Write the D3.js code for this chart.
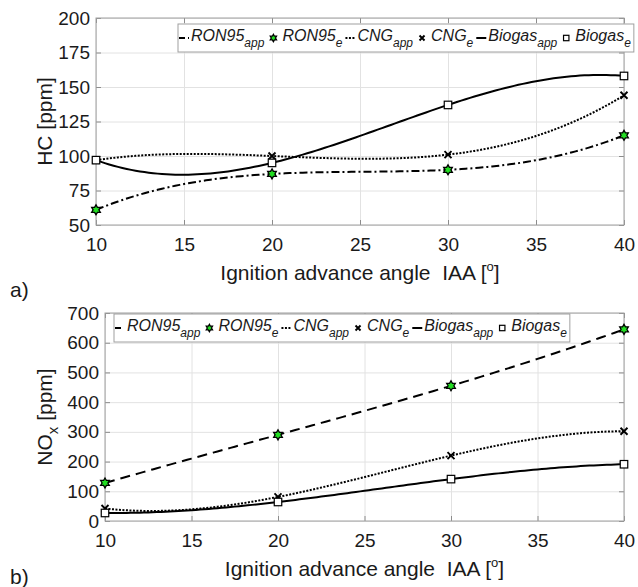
<!DOCTYPE html>
<html>
<head>
<meta charset="utf-8">
<script src="https://cdn.jsdelivr.net/npm/d3@7"></script>
<style>
  body { margin: 0; background: #fff; }
  svg { display: block; font-family: "Liberation Sans", Arial, sans-serif; }
</style>
</head>
<body>
<svg id="chart" width="638" height="587"></svg>
<script>
/*
** Data
*/
var iaa = [10, 20, 30, 40];
var hcRon95 = [61, 87, 90, 115];
var hcCng = [97, 100, 101, 144];
var hcBiogas = [97, 95, 137, 158];
var noxRon95 = [128, 290, 455, 645];
var noxCng = [42, 81, 220, 302];
var noxBiogas = [27, 64, 141, 191];
var iaaTicks = [10, 15, 20, 25, 30, 35, 40];
var hcTicks = [50, 75, 100, 125, 150, 175, 200];
var noxTicks = [0, 100, 200, 300, 400, 500, 600, 700];
var fuels = ["RON95", "CNG", "Biogas"];

/*
** Helpers
*/
function cubicThrough(xs, ys) {
  // interpolating polynomial through the measured points (the "app" curves)
  return function(t) {
    var s = 0;
    for (var i = 0; i < xs.length; i++) {
      var l = 1;
      for (var j = 0; j < xs.length; j++) if (j !== i) l *= (t - xs[j]) / (xs[i] - xs[j]);
      s += ys[i] * l;
    }
    return s;
  };
} // cubicThrough()

function hexagram(r) {
  var pts = [];
  for (var k = 0; k < 12; k++) {
    var a = -Math.PI / 2 + k * Math.PI / 6
      , rr = k % 2 ? r / Math.sqrt(3) : r;
    pts.push([rr * Math.cos(a), rr * Math.sin(a)]);
  }
  return "M" + pts.join("L") + "Z";
} // hexagram()

function drawMarker(g, kind, cx, cy, size) {
  if (kind === "star") {
    g.append("path").attr("d", hexagram(size)).attr("transform", "translate(" + cx + "," + cy + ")")
        .attr("fill", "#22dd22").attr("stroke", "#000").attr("stroke-width", 1.3);
  } else if (kind === "x") {
    var h = size * 0.7;
    g.append("path").attr("d", "M" + (cx - h) + "," + (cy - h) + "L" + (cx + h) + "," + (cy + h)
        + "M" + (cx - h) + "," + (cy + h) + "L" + (cx + h) + "," + (cy - h))
        .attr("stroke", "#000").attr("stroke-width", 1.9).attr("fill", "none");
  } else {
    var q = size * 0.75;
    g.append("rect").attr("x", cx - q).attr("y", cy - q).attr("width", 2 * q).attr("height", 2 * q)
        .attr("fill", "#fff").attr("stroke", "#000").attr("stroke-width", 1.2);
  }
} // drawMarker()

var svg = d3.select("#chart");

function drawPanel(cfg) {
  var g = svg.append("g")
    , x = d3.scaleLinear().domain([10, 40]).range([cfg.left, cfg.right])
    , y = d3.scaleLinear().domain(cfg.yDomain).range([cfg.bottom, cfg.top])
    , w = cfg.right - cfg.left
    , h = cfg.bottom - cfg.top
  ;

  // grid
  g.append("g").attr("transform", "translate(0," + cfg.bottom + ")")
      .call(d3.axisBottom(x).tickValues(iaaTicks).tickSize(-h).tickFormat(""))
      .call(function(s) { s.select(".domain").remove(); })
    .selectAll("line").attr("stroke", "#e2e2e2");
  g.append("g").attr("transform", "translate(" + cfg.left + ",0)")
      .call(d3.axisLeft(y).tickValues(cfg.yTicks).tickSize(-w).tickFormat(""))
      .call(function(s) { s.select(".domain").remove(); })
    .selectAll("line").attr("stroke", "#e2e2e2");

  // inward ticks on all four sides
  [[d3.axisBottom(x).tickValues(iaaTicks), "translate(0," + cfg.bottom + ")"],
   [d3.axisTop(x).tickValues(iaaTicks), "translate(0," + cfg.top + ")"],
   [d3.axisLeft(y).tickValues(cfg.yTicks), "translate(" + cfg.left + ",0)"],
   [d3.axisRight(y).tickValues(cfg.yTicks), "translate(" + cfg.right + ",0)"]].forEach(function(a) {
      g.append("g").attr("transform", a[1])
          .call(a[0].tickSize(-5).tickFormat(""))
          .call(function(s) { s.select(".domain").remove(); })
        .selectAll("line").attr("stroke", "#8c8c8c");
    });

  g.append("rect").attr("x", cfg.left).attr("y", cfg.top).attr("width", w).attr("height", h)
      .attr("fill", "none").attr("stroke", "#a0a0a0");

  // tick labels
  g.append("g").attr("transform", "translate(0," + cfg.bottom + ")")
      .call(d3.axisBottom(x).tickValues(iaaTicks).tickSize(0).tickPadding(13))
      .call(function(s) { s.select(".domain").remove(); })
    .selectAll("text").attr("font-size", 19).attr("fill", "#1a1a1a")
      .attr("font-family", "Liberation Sans, Arial, sans-serif");
  g.append("g").attr("transform", "translate(" + cfg.left + ",0)")
      .call(d3.axisLeft(y).tickValues(cfg.yTicks).tickSize(0).tickPadding(6))
      .call(function(s) { s.select(".domain").remove(); })
    .selectAll("text").attr("font-size", 19).attr("fill", "#1a1a1a")
      .attr("font-family", "Liberation Sans, Arial, sans-serif");

  // curves and measured points
  var line = d3.line().x(function(d) { return x(d[0]); }).y(function(d) { return y(d[1]); });
  cfg.series.forEach(function(s) {
    var f = cubicThrough(iaa, s.values)
      , pts = d3.range(0, 121).map(function(i) { var t = 10 + i * 0.25; return [t, f(t)]; });
    g.append("path").datum(pts).attr("d", line)
        .attr("fill", "none").attr("stroke", "#000").attr("stroke-width", 2)
        .attr("stroke-dasharray", s.dash);
  });
  cfg.series.forEach(function(s) {
    s.values.forEach(function(v, i) { drawMarker(g, s.marker, x(iaa[i]), y(v), 5); });
  });

  // legend
  var lg = g.append("g")
    , frame = lg.append("rect")
    , cx = cfg.legendX
    , base = cfg.legendY + 17
    , mid = cfg.legendY + 14
  ;
  cfg.series.forEach(function(s, k) {
    [["app", "line"], ["e", "marker"]].forEach(function(p) {
      if (p[1] === "line") {
        lg.append("line").attr("x1", cx + 1).attr("x2", cx + 11).attr("y1", mid).attr("y2", mid)
            .attr("stroke", "#000").attr("stroke-width", 2).attr("stroke-dasharray", s.dash)
            .attr("stroke-dashoffset", s.tokenOffset || 0);
        cx += 13;
      } else {
        drawMarker(lg, s.marker, cx + 7, mid, 3.6);
        cx += 16;
      }
      var t = lg.append("text").attr("x", cx).attr("y", base)
          .attr("font-size", 16).attr("font-style", "italic").attr("fill", "#1a1a1a");
      t.append("tspan").text(fuels[k]);
      t.append("tspan").attr("dy", 6).attr("font-size", 12).text(p[0]);
      cx += t.node().getComputedTextLength() + 2;
    });
  });
  frame.attr("x", cfg.legendX).attr("y", cfg.legendY).attr("width", cx - cfg.legendX + 1)
      .attr("height", 28).attr("fill", "#fff").attr("stroke", "#a0a0a0");

  // axis titles
  var xt = g.append("text").attr("x", (cfg.left + cfg.right) / 2).attr("y", cfg.bottom + 55)
      .attr("text-anchor", "middle").attr("font-size", 21).attr("fill", "#1a1a1a");
  xt.append("tspan").text("Ignition advance angle \u00a0IAA [");
  xt.append("tspan").attr("dy", -9).attr("font-size", 13).text("o");
  xt.append("tspan").attr("dy", 9).text("]");

  var yt = g.append("text").attr("transform", "translate(52," + ((cfg.top + cfg.bottom) / 2) + ") rotate(-90)")
      .attr("text-anchor", "middle").attr("font-size", 21).attr("fill", "#1a1a1a");
  yt.append("tspan").text(cfg.yLabel[0]);
  if (cfg.yLabel[1]) {
    yt.append("tspan").attr("dy", 6).attr("font-size", 15).text(cfg.yLabel[1]);
    yt.append("tspan").attr("dy", -6).text(cfg.yLabel[2]);
  }

  g.append("text").attr("x", 10).attr("y", cfg.tagY).attr("font-size", 21).attr("fill", "#1a1a1a")
      .text(cfg.tag);
} // drawPanel()

drawPanel({
    left: 96, right: 624, top: 18, bottom: 225
  , yDomain: [50, 200], yTicks: hcTicks
  , series: [
        { values: hcRon95, dash: "8,3,2,3", tokenOffset: 2, marker: "star" }
      , { values: hcCng, dash: "2,1.5", marker: "x" }
      , { values: hcBiogas, dash: null, marker: "square" }
    ]
  , legendX: 178, legendY: 24
  , yLabel: ["HC [ppm]"]
  , tag: "a)", tagY: 297
});

drawPanel({
    left: 105, right: 624, top: 313, bottom: 521
  , yDomain: [0, 700], yTicks: noxTicks
  , series: [
        { values: noxRon95, dash: "10,6", tokenOffset: 4, marker: "star" }
      , { values: noxCng, dash: "2,1.5", marker: "x" }
      , { values: noxBiogas, dash: null, marker: "square" }
    ]
  , legendX: 114, legendY: 314
  , yLabel: ["NO", "x", " [ppm]"]
  , tag: "b)", tagY: 584
});
</script>
</body>
</html>
